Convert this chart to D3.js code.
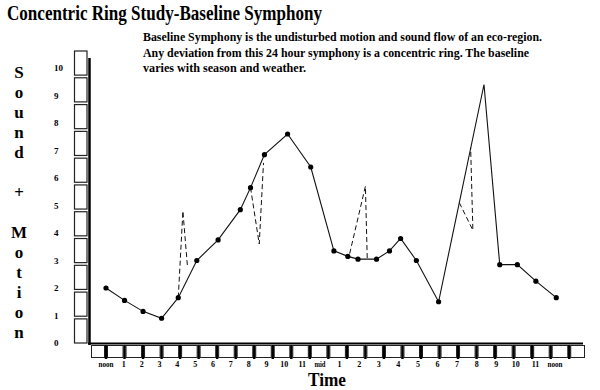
<!DOCTYPE html>
<html>
<head>
<meta charset="utf-8">
<script src="https://cdn.jsdelivr.net/npm/d3@7"></script>
<style>
  html, body { margin: 0; padding: 0; background: #fff; }
  #chart { width: 600px; height: 390px; }
</style>
</head>
<body>
<div id="chart"></div>
<script>
// baseline reading, hour 0 = noon
const hours = [0, 1, 2, 3, 3.9, 4.9, 6.05, 7.25, 7.8, 8.55, 9.8, 11.05, 12.3, 13.05, 13.6, 14.6, 15.3, 15.9, 16.75, 17.95, 20.4, 21.25, 22.2, 23.2, 24.3];
const levels = [2.0, 1.55, 1.15, 0.9, 1.65, 3.0, 3.75, 4.85, 5.65, 6.85, 7.6, 6.4, 3.35, 3.15, 3.05, 3.05, 3.35, 3.8, 3.0, 1.5, 9.4, 2.85, 2.85, 2.25, 1.65];
const marked = [1, 1, 1, 1, 1, 1, 1, 1, 1, 1, 1, 1, 1, 1, 1, 1, 1, 1, 1, 1, 0, 1, 1, 1, 1];

// concentric rings (dashed deviations)
const ringHours = [[3.9, 4.15, 4.4], [7.8, 8.27, 8.5], [13.15, 14.0, 14.1], [19.07, 19.8, 19.68]];
const ringLevels = [[1.65, 4.8, 2.75], [5.65, 3.6, 6.55], [3.25, 5.7, 3.05], [5.1, 4.1, 7.1]];

const yTicks = [0, 1, 2, 3, 4, 5, 6, 7, 8, 9, 10];
const xTickLabels = ["noon", "1", "2", "3", "4", "5", "6", "7", "8", "9", "10", "11", "mid",
  "1", "2", "3", "4", "5", "6", "7", "8", "9", "10", "11", "noon"];

const title = "Concentric Ring Study-Baseline Symphony";
const noteLines = [
  "Baseline Symphony is the undisturbed motion and sound flow of an eco-region.",
  "Any deviation from this 24 hour symphony is a concentric ring. The baseline",
  "varies with season and weather."
];
const yTitle = "Sound + Motion";
const xTitle = "Time";

function drawSymphony() {
  const width = 600;
  const height = 390;
  const serif = "'Liberation Serif', 'Times New Roman', serif";

  d3.select("#chart").selectAll("*").remove();

  const svg = d3.select("#chart").append("svg")
    .attr("width", width)
    .attr("height", height)
    .style("font-family", serif)
    .style("font-weight", "bold");

  svg.append("rect").attr("width", width).attr("height", height).attr("fill", "#fff");

  const x = d3.scaleLinear().domain([0, 24]).range([106, 550.7]);
  const y = d3.scaleLinear().domain([0, 10]).range([343, 68]);
  // hour labels in the original drift a little from the box bars
  const xLabel = d3.scaleLinear().domain([0, 12, 24]).range([106, 320, 555]);

  // title + note
  svg.append("text")
    .attr("x", 7).attr("y", 20)
    .attr("font-size", "21px")
    .attr("textLength", 315).attr("lengthAdjust", "spacingAndGlyphs")
    .text(title);

  const noteWidths = [399, 386, 163];
  svg.selectAll(".note")
    .data(noteLines)
    .join("text")
    .attr("class", "note")
    .attr("x", 143)
    .attr("y", (d, i) => 41 + i * 15.5)
    .attr("font-size", "13px")
    .attr("textLength", (d, i) => noteWidths[i])
    .attr("lengthAdjust", "spacingAndGlyphs")
    .text(d => d);

  // vertical axis title, one letter per row
  svg.selectAll(".ytitle")
    .data(yTitle.split(""))
    .join("text")
    .attr("class", "ytitle")
    .attr("x", 19)
    .attr("y", (d, i) => 72 + i * 20)
    .attr("dy", "0.35em")
    .attr("text-anchor", "middle")
    .attr("font-size", "17px")
    .text(d => d);

  // stack of boxes beside the y axis
  const yBoxes = d3.scaleBand().domain(d3.range(11)).range([51, 343]).paddingInner(0.1);
  svg.selectAll(".ybox")
    .data(yBoxes.domain())
    .join("rect")
    .attr("class", "ybox")
    .attr("x", 74.5)
    .attr("y", d => yBoxes(d))
    .attr("width", 12.5)
    .attr("height", yBoxes.bandwidth())
    .attr("fill", "#fff")
    .attr("stroke", "#222")
    .attr("stroke-width", 1.2);

  svg.selectAll(".ytick")
    .data(yTicks)
    .join("text")
    .attr("class", "ytick")
    .attr("x", 54)
    .attr("y", d => y(d))
    .attr("dy", "0.35em")
    .attr("font-size", "9px")
    .text(d => d);

  // axis lines
  svg.append("line")
    .attr("x1", 89.5).attr("x2", 89.5)
    .attr("y1", 58).attr("y2", 345)
    .attr("stroke", "#000").attr("stroke-width", 2.5);

  svg.append("line")
    .attr("x1", 88).attr("x2", 583)
    .attr("y1", 343.5).attr("y2", 343.5)
    .attr("stroke", "#000").attr("stroke-width", 2);

  // strip of boxes under the x axis, thick bar at each hour
  const seps = d3.range(0, 26).map(x);
  const edges = [90].concat(seps, [586]);
  svg.selectAll(".xbox")
    .data(d3.pairs(edges))
    .join("rect")
    .attr("class", "xbox")
    .attr("x", d => d[0] + 1.5)
    .attr("y", 345.5)
    .attr("width", d => d[1] - d[0] - 3)
    .attr("height", 12)
    .attr("fill", "#fff")
    .attr("stroke", "#222")
    .attr("stroke-width", 1);

  svg.selectAll(".xsep")
    .data(seps)
    .join("rect")
    .attr("class", "xsep")
    .attr("x", d => d - 1.2)
    .attr("y", 345)
    .attr("width", 2.4)
    .attr("height", 14)
    .attr("fill", "#000");

  svg.selectAll(".xtick")
    .data(xTickLabels)
    .join("text")
    .attr("class", "xtick")
    .attr("x", (d, i) => xLabel(i))
    .attr("y", 367)
    .attr("text-anchor", "middle")
    .attr("font-size", "8px")
    .attr("textLength", d => d === "noon" ? 15 : (d === "mid" ? 11 : null))
    .attr("lengthAdjust", "spacingAndGlyphs")
    .text(d => d);

  svg.append("text")
    .attr("x", 308).attr("y", 386)
    .attr("font-size", "18px")
    .attr("textLength", 38).attr("lengthAdjust", "spacingAndGlyphs")
    .text(xTitle);

  // rings
  const line = d3.line().x(d => x(d[0])).y(d => y(d[1]));
  svg.selectAll(".ring")
    .data(ringHours.map((hs, i) => hs.map((h, j) => [h, ringLevels[i][j]])))
    .join("path")
    .attr("class", "ring")
    .attr("d", line)
    .attr("fill", "none")
    .attr("stroke", "#111")
    .attr("stroke-width", 1)
    .attr("stroke-dasharray", "5,3");

  // baseline
  const pts = hours.map((h, i) => [h, levels[i]]);
  svg.append("path")
    .attr("d", line(pts))
    .attr("fill", "none")
    .attr("stroke", "#111")
    .attr("stroke-width", 1.1);

  svg.selectAll(".dot")
    .data(pts.filter((d, i) => marked[i]))
    .join("circle")
    .attr("class", "dot")
    .attr("cx", d => x(d[0]))
    .attr("cy", d => y(d[1]))
    .attr("r", 2.6)
    .attr("fill", "#000");
}

drawSymphony();
</script>
</body>
</html>
